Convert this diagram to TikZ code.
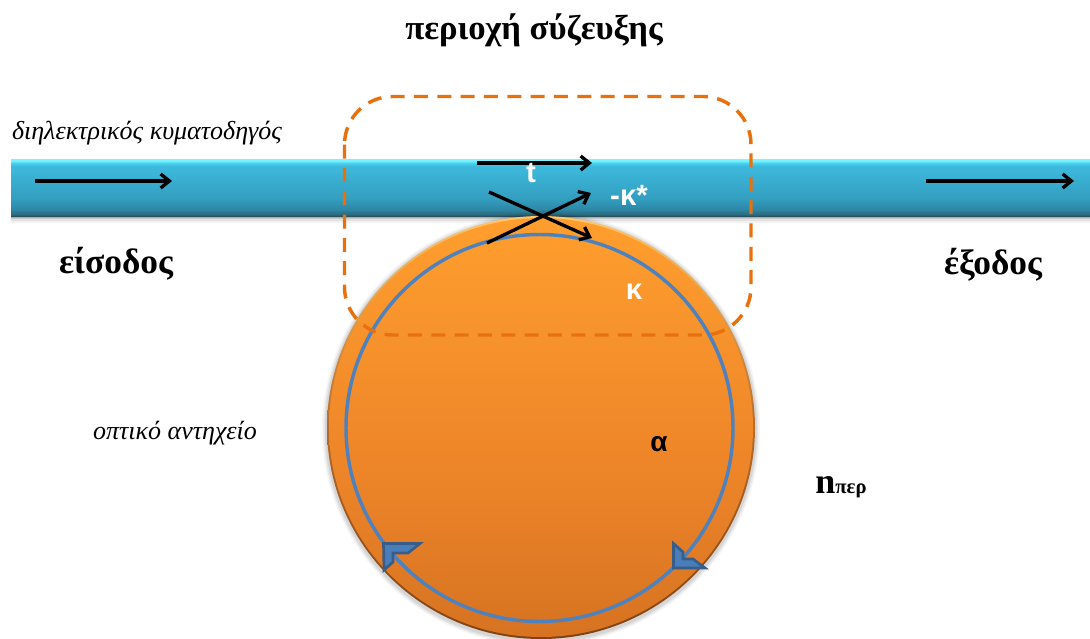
\documentclass[tikz,border=0pt]{standalone}
\usepackage{fontspec}
\setmainfont{Liberation Serif}
\newfontfamily\sansgr{Liberation Sans}
\usetikzlibrary{arrows.meta}
\definecolor{dashor}{HTML}{E8710F}
\definecolor{ringblue}{HTML}{4F81BD}
\definecolor{headblue}{HTML}{4A7EBB}
\definecolor{headedge}{HTML}{385D8A}
\pgfdeclareverticalshading{wgshade}{100bp}{
 rgb(0bp)=(0.15,0.30,0.36);
 rgb(25bp)=(0.16,0.32,0.38);
 rgb(26.5bp)=(0.17,0.42,0.50);
 rgb(31bp)=(0.18,0.53,0.65);
 rgb(40bp)=(0.20,0.62,0.75);
 rgb(69bp)=(0.24,0.73,0.87);
 rgb(71.5bp)=(0.30,0.82,0.94);
 rgb(73.5bp)=(0.45,0.96,1.00);
 rgb(75bp)=(0.50,0.95,1.00);
 rgb(100bp)=(0.50,0.95,1.00)}
\pgfdeclareverticalshading{discshade}{100bp}{
 rgb(0bp)=(0.84,0.45,0.13);
 rgb(25bp)=(0.84,0.45,0.13);
 rgb(45bp)=(0.93,0.52,0.16);
 rgb(75bp)=(1.00,0.62,0.18);
 rgb(100bp)=(1.00,0.62,0.18)}
\pgfdeclareverticalshading{rimshade}{100bp}{
 rgb(0bp)=(0.50,0.26,0.08);
 rgb(25bp)=(0.50,0.26,0.08);
 rgb(50bp)=(0.72,0.42,0.16);
 rgb(75bp)=(1.00,0.78,0.42);
 rgb(100bp)=(1.00,0.78,0.42)}
\tikzset{
 x=0.75pt,y=-0.75pt,
 flow/.style={line width=2.5pt,-{Straight Barb[length=6.5pt,width=10.5pt,line width=2.5pt]}},
 whitelab/.style={text=white,font=\sansgr\bfseries\fontsize{22pt}{24pt}\selectfont,inner sep=0pt},
 blacklab/.style={font=\bfseries\fontsize{26.5pt}{28pt}\selectfont,inner sep=0pt},
 itlab/.style={font=\itshape\fontsize{19.5pt}{21pt}\selectfont,inner sep=0pt},
 headshape/.style={fill=headblue,draw=headedge,line width=2pt,line join=miter}
}
\begin{document}
\begin{tikzpicture}
\useasboundingbox (0,0) rectangle (1090,639);
\clip (0,0) rectangle (1090,639);
% waveguide shadow
\foreach \d/\o in {7/0.05,5/0.07,3/0.10,1.5/0.15}{
  \fill[black,opacity=\o] (11,170) rectangle (1090,216+\d);
}
\shade[shading=wgshade] (11,159) rectangle (1090,216);
% resonator shadow and body
\foreach \d/\o in {5/0.04,3.5/0.06,2/0.08}{
  \fill[black,opacity=\o] (541,429) ellipse[x radius=214+\d,y radius=211.5+\d];
}
\shade[shading=rimshade] (541,427.5) ellipse[x radius=214,y radius=211.5];
\shade[shading=discshade] (541,427.5) ellipse[x radius=212,y radius=209.5];
\draw[ringblue,line width=2.6pt] (539.5,428) circle[radius=193.5];
% ring arrowheads
\filldraw[headshape] (383.5,543.5) -- (420,543.5) -- (408,553) -- (393,553) -- (393,562) -- (384,570) -- cycle;
\filldraw[headshape] (673.5,543.5) -- (683,552) -- (683,559) -- (693,559) -- (705,568) -- (673.5,568) -- cycle;
% coupling region
\draw[dashor,line width=2.6pt,dash pattern=on 10.5pt off 7pt,rounded corners=36pt] (344.5,96.5) rectangle (751,335);
% flow arrows
\coordinate (inA) at (35,181); \coordinate (inB) at (172,181);
\coordinate (outA) at (926,181); \coordinate (outB) at (1074,181);
\coordinate (tA) at (477,163); \coordinate (tB) at (592,163);
\coordinate (crA) at (489,192); \coordinate (crB) at (592,238);
\coordinate (kA) at (487,243); \coordinate (kB) at (591,193);
\draw[flow] (inA) -- (inB);
\draw[flow] (outA) -- (outB);
\draw[flow] (tA) -- (tB);
\draw[flow] (crA) -- (crB);
\draw[flow] (kA) -- (kB);
% labels
\node[blacklab,font=\bfseries\fontsize{26pt}{28pt}\selectfont] (title) at (534,30) {περιοχή σύζευξης};
\node[itlab] (wg) at (147,133) {διηλεκτρικός κυματοδηγός};
\node[blacklab] (input) at (116,264) {είσοδος};
\node[blacklab] (output) at (993,265) {έξοδος};
\node[itlab] (res) at (175,433) {οπτικό αντηχείο};
\node[whitelab] (t) at (531,173) {t};
\node[whitelab] (kstar) at (629,195) {-κ*};
\node[whitelab] (k) at (634,292) {κ};
\node[whitelab,text=black,font=\sansgr\bfseries\fontsize{21pt}{22pt}\selectfont] (alpha) at (659,444) {α};
\node[inner sep=0pt] (nper) at (841,487) {\bfseries\fontsize{27pt}{28pt}\selectfont n\fontsize{15.5pt}{17pt}\selectfont περ};
\end{tikzpicture}
\end{document}
